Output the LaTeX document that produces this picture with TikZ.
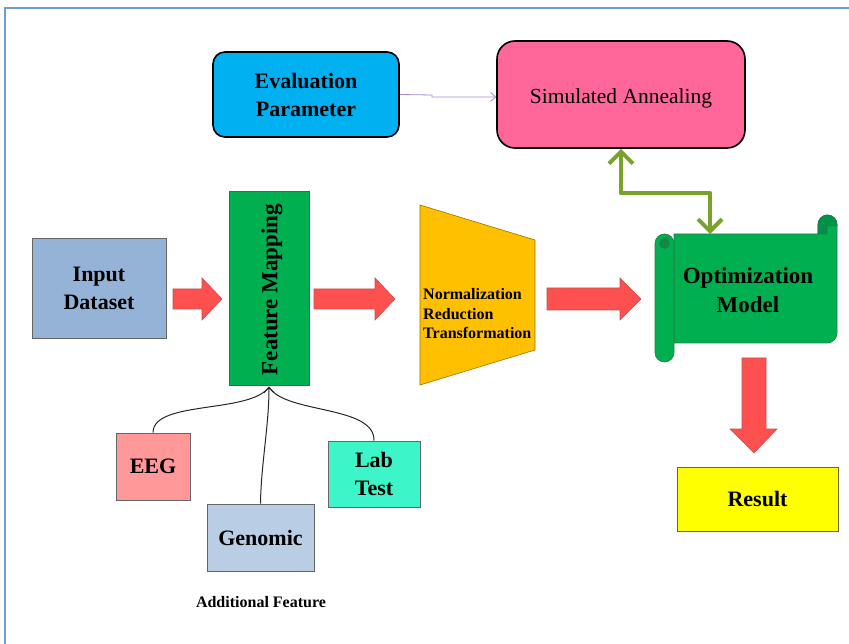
\documentclass[tikz,border=0pt]{standalone}
\usepackage{fontspec}
\setmainfont{Liberation Serif}
\usetikzlibrary{arrows.meta}
\definecolor{evalblue}{HTML}{00B0F0}
\definecolor{sapink}{HTML}{FF6699}
\definecolor{inputblue}{HTML}{95B3D7}
\definecolor{fmgreen}{HTML}{00B050}
\definecolor{trapgold}{HTML}{FFC000}
\definecolor{eegpink}{HTML}{FF9999}
\definecolor{genblue}{HTML}{B9CDE5}
\definecolor{labaqua}{HTML}{3CF5C8}
\definecolor{resyellow}{HTML}{FFFF00}
\definecolor{arrred}{HTML}{FF5050}
\definecolor{arredge}{HTML}{C0504D}
\definecolor{olivegr}{HTML}{77A32A}
\definecolor{lightpurple}{HTML}{A58BD0}
\definecolor{framblue}{HTML}{6F9BD6}
\definecolor{scrolledge}{HTML}{2D7A45}
\definecolor{scrolldark}{HTML}{00914A}
\begin{document}
\begin{tikzpicture}[x=1pt,y=-1pt,
  boxtxt/.style={font=\fontsize{22}{28}\selectfont\bfseries, align=center, inner sep=0pt},
  plainbox/.style={boxtxt, draw=gray!80!black, line width=0.7pt},
  roundbox/.style={boxtxt, draw=black, line width=1.6pt},
  redarrow/.style={fill=arrred, draw=arredge, line width=0.6pt, line join=miter},
  feedline/.style={draw=black!85, line width=1pt}
]
\useasboundingbox (0,0) rectangle (849,644);
\draw[framblue, line width=1.2pt] (849,8) -- (5,8) -- (5,644);

% top boxes
\node[roundbox, fill=evalblue, minimum width=186pt, minimum height=85pt, rounded corners=12pt] (ep) at (306,94.5) {Evaluation\\Parameter};
\node[roundbox, fill=sapink, minimum width=248pt, minimum height=107pt, rounded corners=18pt] (sa) at (621,94.5) {};
\node[font=\fontsize{21.5}{26}\selectfont, inner sep=0pt] (satxt) at (621,98) {Simulated Annealing};
\coordinate (epstep) at (432,95);
\draw[lightpurple, line width=0.8pt, -{Straight Barb[length=5pt,width=9pt]}] (ep.east) -- (epstep) -- (epstep |- 0,97) -- (sa.west |- 0,97);

% main row
\node[plainbox, fill=inputblue, minimum width=134pt, minimum height=100pt] (in) at (99,288) {Input\\Dataset};
\node[draw=gray!70!black, line width=0.7pt, fill=fmgreen, minimum width=80pt, minimum height=194pt] (fm) at (269,288) {};
\node[boxtxt, rotate=90, font=\fontsize{23}{28}\selectfont\bfseries] (fmtxt) at (272,289.5) {Feature Mapping};

\draw[fill=trapgold, draw=trapgold!60!black, line width=0.6pt] (420,205) -- (535,240) -- (535,350) -- (420,385) -- cycle;
\node[anchor=west, align=left, inner sep=0pt, font=\fontsize{16}{19.5}\selectfont\bfseries] (nrt) at (423,314) {Normalization\\Reduction\\Transformation};

% block arrows
\draw[redarrow] (173,289) -- (202,289) -- (202,278) -- (222,299) -- (202,320) -- (202,309) -- (173,309) -- cycle;
\draw[redarrow] (314,289) -- (375,289) -- (375,278) -- (395,299) -- (375,320) -- (375,309) -- (314,309) -- cycle;
\draw[redarrow] (547,288) -- (620,288) -- (620,278) -- (641,299) -- (620,320) -- (620,310) -- (547,310) -- cycle;
\draw[redarrow] (742,358) -- (766,358) -- (766,429) -- (777,429) -- (754,453) -- (730,429) -- (742,429) -- cycle;

% scroll (optimization model)
\draw[fill=fmgreen, draw=scrolledge, line width=0.7pt]
  (674,234) -- (818,234) -- (818,224.5) arc (180:360:9.5) -- (837,333) arc (0:90:10) -- (674,343) -- cycle;
\draw[fill=scrolldark, draw=scrolledge, line width=0.6pt]
  (818,224.5) arc (180:360:9.5) -- (837,226) -- (827,226) -- (827,234) -- (818,234) -- cycle;
\draw[scrolledge, line width=0.6pt] (822,226) arc (180:0:2.5);
\draw[fill=fmgreen, draw=scrolledge, line width=0.7pt]
  (655,243.5) arc (180:360:9.5) -- (674,352.5) arc (0:180:9.5) -- cycle;
\draw[fill=scrolldark, draw=scrolledge, line width=0.6pt] (664.5,243.5) circle (5);
\draw[scrolledge, line width=0.6pt] (664.5,248.5) -- (664.5,240) arc (180:360:2.5);
\node[boxtxt, font=\fontsize{23}{29}\selectfont\bfseries] (om) at (748,290) {Optimization\\Model};
\coordinate (omtop) at (710,234);

% feedback double arrow
\coordinate (g1) at (621,193);
\coordinate (g2) at (710,193);
\draw[olivegr, line width=4.5pt, line join=round,
  {Straight Barb[length=12pt,width=24pt,line width=4pt]}-{Straight Barb[length=12pt,width=24pt,line width=4pt]}]
  (sa.south) -- (g1) -- (g2) -- (omtop);

\node[draw=olive!70!black, line width=0.7pt, fill=resyellow, boxtxt, minimum width=161pt, minimum height=64pt] (res) at (757.5,499) {Result};

% additional features
\node[plainbox, fill=eegpink, minimum width=74pt, minimum height=67pt] (eeg) at (153,466.5) {EEG};
\node[plainbox, fill=genblue, minimum width=107pt, minimum height=67pt] (gen) at (260.5,537.5) {Genomic};
\node[plainbox, fill=labaqua, minimum width=92pt, minimum height=66pt] (lab) at (374,474) {Lab\\Test};
\node[font=\fontsize{16}{19}\selectfont\bfseries, inner sep=0pt] (addf) at (261,602) {Additional Feature};

\coordinate (fmb) at (269,387);
\draw[feedline] (eeg.north) .. controls (153,400) and (250,414) .. (fmb);
\draw[feedline] (lab.north) .. controls (375,405) and (285,414) .. (fmb);
\draw[feedline, -{Straight Barb[length=5pt,width=10pt]}] (gen.north) .. controls (261,465) and (269,425) .. (fmb);
\end{tikzpicture}
\end{document}
